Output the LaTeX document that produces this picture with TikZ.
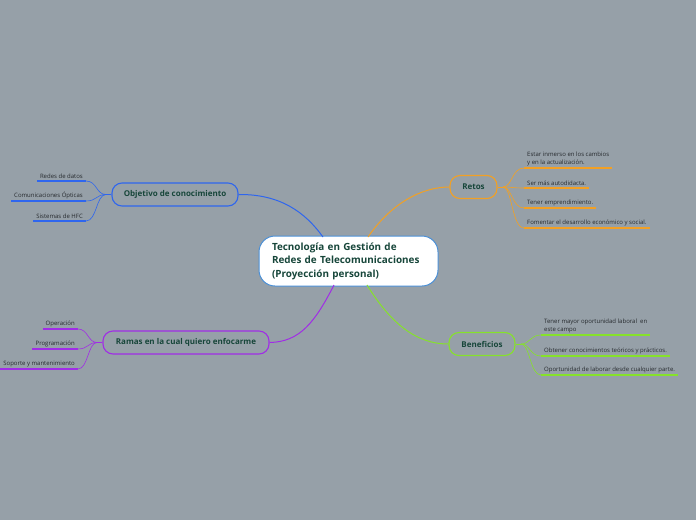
\documentclass[tikz,border=0pt]{standalone}
\usepackage{fontspec}
\setmainfont{Open Sans}
\usepackage{tikz}
\usepackage{xcolor}
\usetikzlibrary{arrows.meta,calc,positioning}
\definecolor{MapBack}{HTML}{96A0A8}
\definecolor{MapText}{HTML}{17463A}
\definecolor{MapItem}{HTML}{262A2E}
\definecolor{MapCore}{HTML}{4A8FD6}
\definecolor{MapBlue}{HTML}{2F66EE}
\definecolor{MapOrange}{HTML}{F2A024}
\definecolor{MapGreen}{HTML}{86E22A}
\definecolor{MapPurple}{HTML}{A02DE6}
\tikzset{
  mmcore/.style={draw=MapCore, fill=white, line width=1pt, rounded corners=16pt, align=left, text width=153pt, inner xsep=13pt, minimum height=50pt, font=\fontsize{9.9}{13.5}\selectfont\bfseries, text=MapText},
  mmbranch/.style={draw=#1, fill=MapBack, line width=1.1pt, rounded corners=10pt, minimum height=23pt, inner xsep=11pt, font=\fontsize{8}{9}\selectfont\bfseries, text=MapText},
  mmitem/.style={inner xsep=3pt, inner ysep=2pt, align=left, font=\fontsize{6}{8}\selectfont, text=MapItem},
  mmline/.style={line width=1.8pt, draw=#1},
  mmlink/.style={line width=1pt, draw=#1},
  mmtwig/.style={line width=0.6pt, draw=#1}
}
\begin{document}
\begin{tikzpicture}[x=1pt,y=-1pt]
  \fill[MapBack] (0,0) rectangle (696,520);
  \useasboundingbox (0,0) rectangle (696,520);
  % main topic
  \node[mmcore] (core) at (348.5,261) {Tecnología en Gestión de\\Redes de Telecomunicaciones\\(Proyección personal)};
  % branches
  \node[mmbranch=MapBlue, minimum width=126pt] (obj) at (175,194.5) {Objetivo de conocimiento};
  \node[mmbranch=MapOrange, minimum width=47pt] (retos) at (473.5,187) {Retos};
  \node[mmbranch=MapGreen, minimum width=66pt] (benef) at (482,344) {Beneficios};
  \node[mmbranch=MapPurple, minimum width=166pt] (ramas) at (186,342.5) {Ramas en la cual quiero enfocarme};
  % links from the main topic
  \coordinate (cblue) at (323,237);
  \coordinate (corange) at (368,237);
  \coordinate (cpurple) at (334,285);
  \coordinate (cgreen) at (367,285);
  \draw[mmlink=MapBlue] (obj.east) .. controls (280,194) and (305,212) .. (cblue);
  \draw[mmlink=MapOrange] (corange) .. controls (390,205) and (420,187) .. (retos.west);
  \draw[mmlink=MapPurple] (cpurple) .. controls (315,322) and (300,342) .. (ramas.east);
  \draw[mmlink=MapGreen] (cgreen) .. controls (390,322) and (415,344) .. (benef.west);
  % Objetivo de conocimiento
  \node[mmitem, anchor=south east] (o1) at (86,181) {Redes de datos};
  \node[mmitem, anchor=south east] (o2) at (86,201) {Comunicaciones Ópticas};
  \node[mmitem, anchor=south east] (o3) at (86,221) {Sistemas de HFC};
  \coordinate (jobj) at (106,194.5);
  \draw[mmtwig=MapBlue] (obj.west) -- (jobj);
  \foreach \i in {o1,o2,o3} {
    \draw[mmline=MapBlue] (\i.south west) -- (\i.south east);
    \draw[mmtwig=MapBlue] (jobj) .. controls (96,194.5) and (97,0|-\i.south) .. (\i.south east);
  }
  % Retos
  \node[mmitem, anchor=south west] (r1) at (524,168) {Estar inmerso en los cambios\\y en la actualización.};
  \node[mmitem, anchor=south west] (r2) at (524,188) {Ser más autodidacta.};
  \node[mmitem, anchor=south west] (r3) at (524,208) {Tener emprendimiento.};
  \node[mmitem, anchor=south west] (r4) at (524,228) {Fomentar el desarrollo económico y social.};
  \coordinate (jretos) at (503,187);
  \draw[mmtwig=MapOrange] (retos.east) -- (jretos);
  \foreach \i in {r1,r2,r3,r4} {
    \draw[mmline=MapOrange] (\i.south west) -- (\i.south east);
    \draw[mmtwig=MapOrange] (jretos) .. controls (512,187) and (512,0|-\i.south) .. (\i.south west);
  }
  % Beneficios
  \node[mmitem, anchor=south west] (b1) at (541,335) {Tener mayor oportunidad laboral \ en\\este campo};
  \node[mmitem, anchor=south west] (b2) at (541,356) {Obtener conocimientos teóricos y prácticos.};
  \node[mmitem, anchor=south west] (b3) at (541,375) {Oportunidad de laborar desde cualquier parte.};
  \coordinate (jbenef) at (521,344);
  \draw[mmtwig=MapGreen] (benef.east) -- (jbenef);
  \foreach \i in {b1,b2,b3} {
    \draw[mmline=MapGreen] (\i.south west) -- (\i.south east);
    \draw[mmtwig=MapGreen] (jbenef) .. controls (530,344) and (530,0|-\i.south) .. (\i.south west);
  }
  % Ramas en la cual quiero enfocarme
  \node[mmitem, anchor=south east] (m1) at (78,329) {Operación};
  \node[mmitem, anchor=south east] (m2) at (78,349) {Programación};
  \node[mmitem, anchor=south east] (m3) at (78,369) {Soporte y mantenimiento};
  \coordinate (jramas) at (97,342.5);
  \draw[mmtwig=MapPurple] (ramas.west) -- (jramas);
  \foreach \i in {m1,m2,m3} {
    \draw[mmline=MapPurple] (\i.south west) -- (\i.south east);
    \draw[mmtwig=MapPurple] (jramas) .. controls (88,342.5) and (88,0|-\i.south) .. (\i.south east);
  }
\end{tikzpicture}
\end{document}
